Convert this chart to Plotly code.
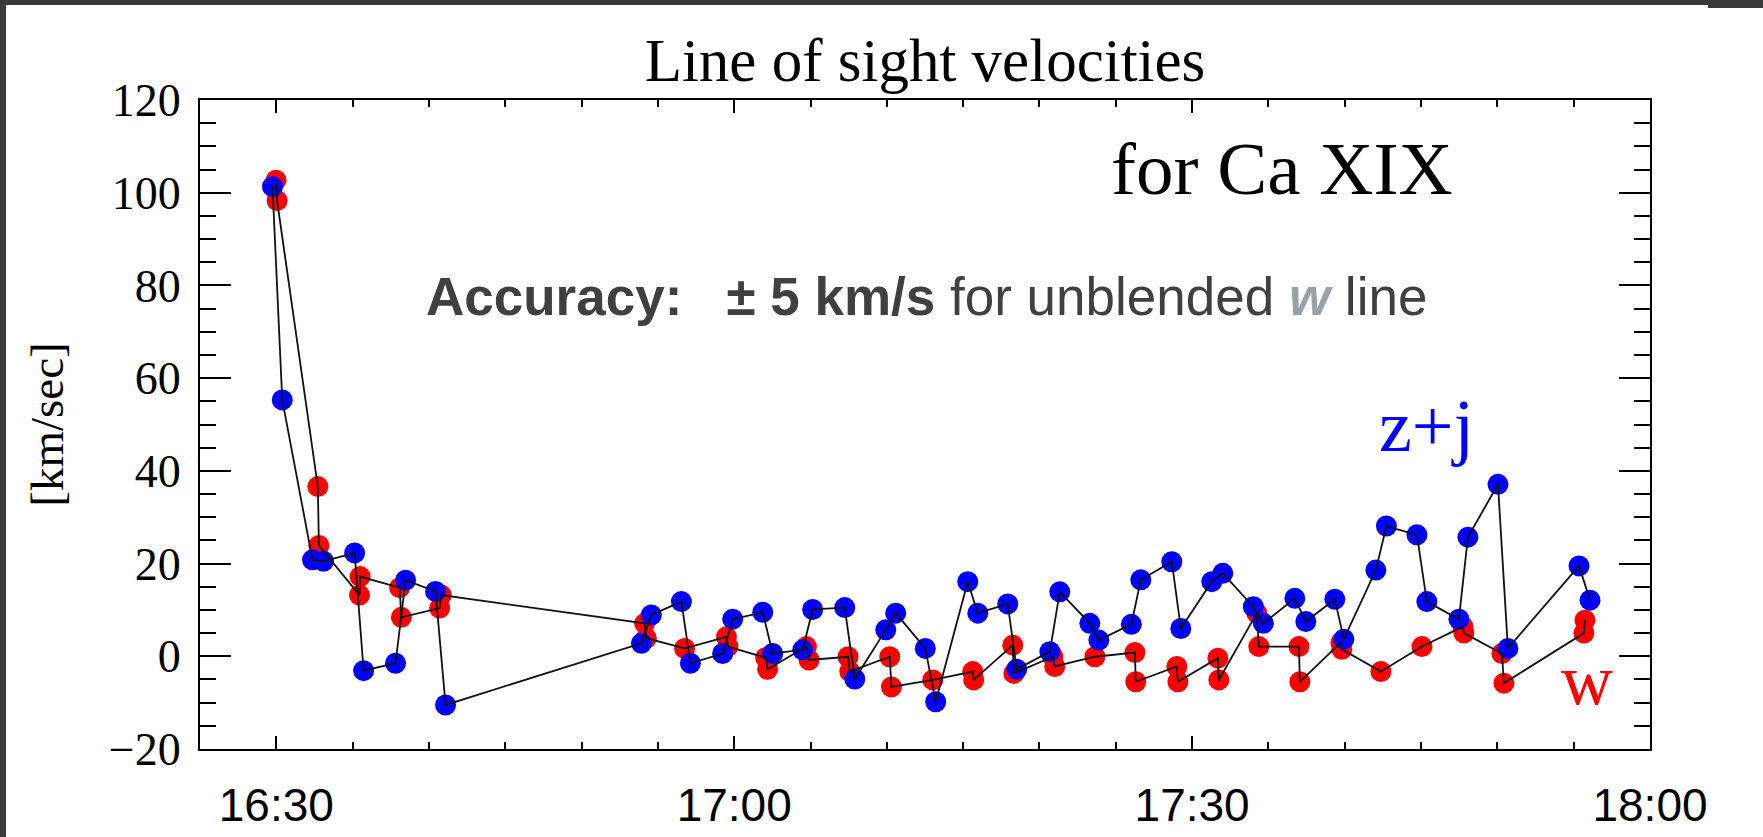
import plotly.graph_objects as go

# ---------------- data (times in minutes after 16:00) ----------------
red_t = [29.98, 30.05, 32.72, 32.79, 35.45, 35.49, 38.08, 38.19, 40.70, 40.81,
         54.13, 54.24, 56.75, 59.49, 59.59, 62.06, 62.19, 64.73, 64.90, 67.46,
         67.57, 70.19, 70.30, 73.01, 75.63, 75.69, 78.25, 78.32, 80.87, 81.00,
         83.63, 86.25, 86.31, 89.00, 89.07, 91.69, 91.75, 94.24, 94.37, 97.00,
         97.06, 99.75, 99.81, 102.37, 105.06, 107.74, 107.81, 110.30, 110.43,
         115.67, 115.74]
red_v = [102.7, 98.3, 36.6, 23.9, 13.2, 17.2, 14.8, 8.4, 10.4, 13.2,
         7.1, 3.9, 1.7, 4.2, 2.1, -0.3, -2.8, 2.1, -0.8, -0.1,
         -3.3, -0.1, -6.6, -5.1, -3.3, -5.1, 2.4, -3.7, -0.1, -2.2,
         -0.1, 0.8, -5.5, -2.2, -5.5, -0.4, -5.1, 9.3, 2.1, 2.1,
         -5.5, 3.0, 1.5, -3.3, 2.1, 6.4, 5.0, 0.6, -5.8,
         5.0, 7.8]

blue_t = [29.75, 30.39, 32.37, 33.09, 35.13, 35.72, 37.81, 38.47, 40.43, 41.09,
          53.92, 54.57, 56.54, 57.13, 59.24, 59.90, 61.87, 62.52, 64.49, 65.14,
          67.24, 67.90, 69.93, 70.58, 72.52, 73.20, 75.30, 75.96, 77.92, 78.51,
          80.68, 81.33, 83.30, 83.89, 86.02, 86.64, 88.67, 89.26, 91.29, 92.01,
          94.01, 94.67, 96.73, 97.45, 99.35, 99.94, 102.04, 102.73, 104.73, 105.38,
          107.48, 108.07, 110.04, 110.69, 115.35, 116.07]
blue_v = [101.3, 55.3, 20.8, 20.5, 22.3, -3.1, -1.5, 16.4, 14.0, -10.5,
          2.8, 8.9, 11.8, -1.5, 0.6, 8.0, 9.5, 0.6, 1.4, 10.1,
          10.5, -4.9, 5.7, 9.3, 1.7, -9.8, 16.1, 9.3, 11.3, -2.8,
          1.0, 13.9, 7.1, 3.5, 6.9, 16.5, 20.4, 6.0, 16.1, 17.9,
          10.7, 7.1, 12.5, 7.5, 12.3, 3.7, 18.6, 28.1, 26.2, 11.8,
          8.0, 25.7, 37.1, 1.7, 19.5, 12.1]

x_tickvals = [30, 60, 90, 120]
x_ticktext = ["16:30", "17:00", "17:30", "18:00"]

# ---------------- geometry helpers ----------------
W, H = 1763, 837
L, R, T, B = 200, 113, 100, 88
PW, PH = W - L - R, H - T - B


def px_x(px):
    return (px - L) / PW


def px_y(py):
    return 1 - (py - T) / PH


SERIF = "Liberation Serif, Times New Roman, serif"
SANS = "Liberation Sans, Arial, sans-serif"

fig = go.Figure()
fig.add_trace(go.Scatter(x=red_t, y=red_v, mode="markers", name="w",
                         marker=dict(color="#ff0000", size=21, line=dict(width=0)),
                         showlegend=False, hoverinfo="skip"))
fig.add_trace(go.Scatter(x=blue_t, y=blue_v, mode="markers", name="z+j",
                         marker=dict(color="#0000ff", size=21, line=dict(width=0)),
                         showlegend=False, hoverinfo="skip"))
fig.add_trace(go.Scatter(x=red_t, y=red_v, mode="lines",
                         line=dict(color="#111111", width=1.8),
                         showlegend=False, hoverinfo="skip"))
fig.add_trace(go.Scatter(x=blue_t, y=blue_v, mode="lines",
                         line=dict(color="#111111", width=1.8),
                         showlegend=False, hoverinfo="skip"))

axis_common = dict(showline=True, linecolor="black", linewidth=2, mirror="ticks",
                   showgrid=False, zeroline=False, ticks="inside",
                   tickcolor="black", tickwidth=1.5, automargin=False)

fig.update_layout(
    width=W, height=H,
    margin=dict(l=L, r=R, t=T, b=B, autoexpand=False),
    paper_bgcolor="white", plot_bgcolor="white", showlegend=False,
    title=dict(text="Line of sight velocities", x=0.5, xref="paper", xanchor="center",
               y=1 - 60 / H, yref="container", yanchor="middle",
               font=dict(family=SERIF, size=61, color="black")),
    xaxis=dict(range=[25, 120], tickmode="array", tickvals=x_tickvals, ticktext=x_ticktext,
               ticklen=13, ticklabelstandoff=15,
               tickfont=dict(family=SANS, size=46, color="black"),
               minor=dict(tickmode="linear", tick0=0, dtick=5, ticks="inside", ticklen=7,
                          tickwidth=1.5, tickcolor="black", showgrid=False),
               **axis_common),
    yaxis=dict(range=[-20, 120], tickmode="linear", tick0=0, dtick=20,
               ticklen=31, ticklabelstandoff=8,
               tickfont=dict(family=SERIF, size=46, color="black"),
               minor=dict(tickmode="linear", tick0=0, dtick=5, ticks="inside", ticklen=16,
                          tickwidth=1.5, tickcolor="black", showgrid=False),
               title=dict(text="[km/sec]", standoff=30,
                          font=dict(family=SERIF, size=47, color="black")),
               **axis_common),
)

annotations = [
    dict(text="for Ca XIX", x=px_x(1455), y=px_y(168), xanchor="right", yanchor="middle",
         font=dict(family=SERIF, size=75, color="black")),
    dict(text="<b>Accuracy:&nbsp;&nbsp; ± 5 km/s</b> for unblended "
              "<span style='color:#9aa0a8'><b><i>w</i></b></span> line",
         x=px_x(424), y=px_y(296), xanchor="left", yanchor="middle",
         font=dict(family=SANS, size=53, color="#404040")),
    dict(text="z+j", x=px_x(1426), y=px_y(426), xanchor="center", yanchor="middle",
         font=dict(family=SERIF, size=74, color="#0000ff")),
    dict(text="w", x=px_x(1587), y=px_y(680), xanchor="center", yanchor="middle",
         font=dict(family=SERIF, size=72, color="#ff0000")),
]
for a in annotations:
    a.update(xref="paper", yref="paper", showarrow=False)
fig.update_layout(annotations=annotations)

# dark screen-capture border
border = "#3a3a3a"
shapes = [
    dict(x0=px_x(0), x1=px_x(6), y0=px_y(H), y1=px_y(0)),
    dict(x0=px_x(0), x1=px_x(W), y0=px_y(5), y1=px_y(0)),
    dict(x0=px_x(1708), x1=px_x(W), y0=px_y(8), y1=px_y(0)),
]
for s in shapes:
    s.update(type="rect", xref="paper", yref="paper", fillcolor=border,
             line=dict(width=0), layer="above")
fig.update_layout(shapes=shapes)

fig.write_html("out.html")
